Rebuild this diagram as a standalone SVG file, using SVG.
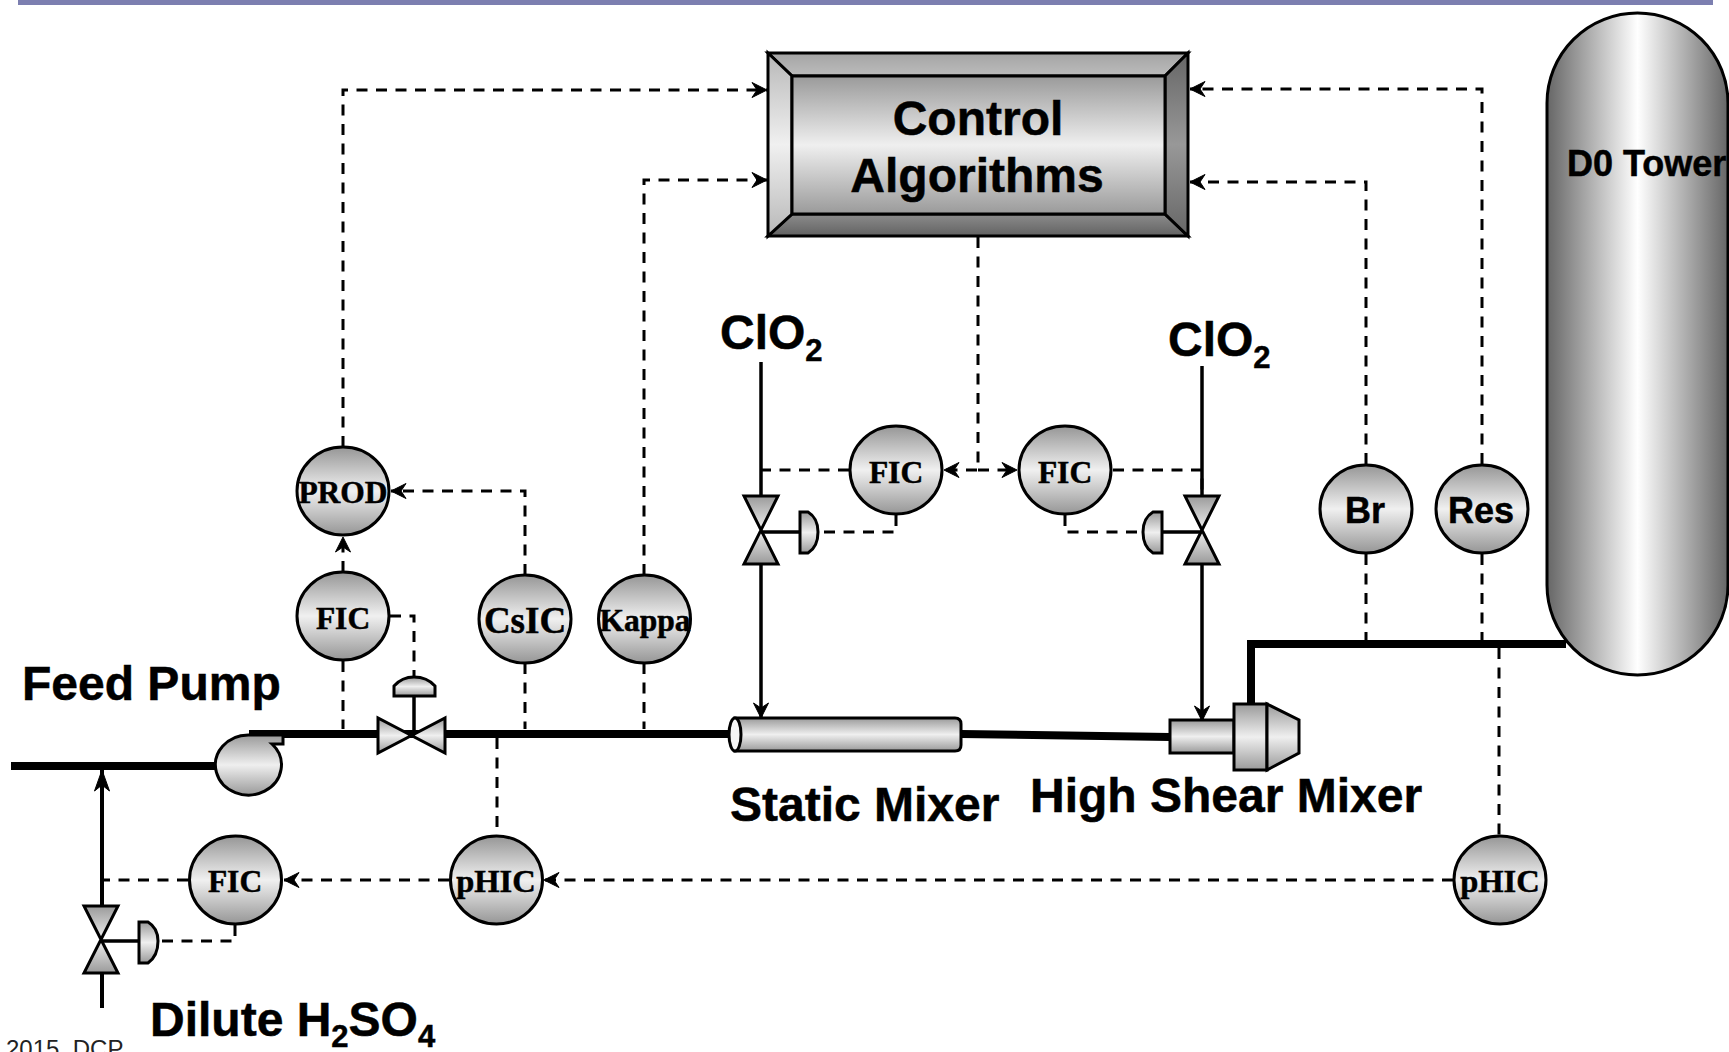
<svg xmlns="http://www.w3.org/2000/svg" width="1729" height="1052" viewBox="0 0 1729 1052">
<style>
text{font-family:"Liberation Sans",Arial,sans-serif;font-weight:bold;fill:#000;stroke:#000;stroke-width:.5}
.big{font-size:48px}
.mid{font-size:36px}
.sub{font-size:31px}
.ser{font-family:"Liberation Serif","Times New Roman",serif;font-size:31.500px;text-anchor:middle}
.c{text-anchor:middle}
.sh{stroke:#000;stroke-width:3;stroke-linejoin:miter}
.g{fill:url(#gv)}
.inst{fill:url(#gc);stroke:#000;stroke-width:3}
.dash{fill:none;stroke:#000;stroke-width:3;stroke-dasharray:11 8.500}
.arr{marker-end:url(#ah)}
.pipe{fill:none;stroke:#000;stroke-width:8}
.line{fill:none;stroke:#000;stroke-width:3.500}
</style>
<defs>
<linearGradient id="gv" x1="0" y1="0" x2="0" y2="1"><stop offset="0" stop-color="#9a9a9a"/><stop offset=".5" stop-color="#efefef"/><stop offset="1" stop-color="#9a9a9a"/></linearGradient>
<linearGradient id="gc" x1="0" y1="0" x2="0" y2="1"><stop offset="0" stop-color="#969696"/><stop offset=".5" stop-color="#f0f0f0"/><stop offset="1" stop-color="#969696"/></linearGradient>
<linearGradient id="gt" x1="0" y1="0" x2="1" y2="0"><stop offset="0" stop-color="#666"/><stop offset=".5" stop-color="#fff"/><stop offset="1" stop-color="#666"/></linearGradient>
<linearGradient id="gtop" x1="0" y1="0" x2="0" y2="1"><stop offset="0" stop-color="#a4a4a4"/><stop offset="1" stop-color="#bcbcbc"/></linearGradient>
<linearGradient id="gbot" x1="0" y1="0" x2="0" y2="1"><stop offset="0" stop-color="#8c8c8c"/><stop offset="1" stop-color="#626262"/></linearGradient>
<linearGradient id="gl" x1="0" y1="0" x2="0" y2="1"><stop offset="0" stop-color="#b8b8b8"/><stop offset=".5" stop-color="#f0f0f0"/><stop offset="1" stop-color="#b8b8b8"/></linearGradient>
<linearGradient id="gr" x1="0" y1="0" x2="0" y2="1"><stop offset="0" stop-color="#666"/><stop offset=".5" stop-color="#989898"/><stop offset="1" stop-color="#666"/></linearGradient>
<marker id="ah" markerUnits="userSpaceOnUse" markerWidth="18" markerHeight="18" refX="16" refY="9" orient="auto" overflow="visible"><path d="M16,9 L1,1.500 L6,9 L1,16.500 Z" fill="#000" stroke="#000" stroke-width="1"/></marker>
<marker id="ahl" markerUnits="userSpaceOnUse" markerWidth="24" markerHeight="24" refX="22" refY="12" orient="auto" overflow="visible"><path d="M22,12 L1,4.500 L7,12 L1,19.500 Z" fill="#000" stroke="#000" stroke-width="1"/></marker>
</defs>
<rect width="1729" height="1052" fill="#fff"/>
<rect x="18" y="0" width="1695" height="5" fill="#7c7fb0"/>

<g id="connectors">
<path class="pipe" d="M11,766H216"/>
<path class="pipe" d="M249,734H735"/>
<path class="pipe" d="M961,734L1170,737"/>
<path class="pipe" d="M1251,704V644H1566"/>
<path class="line" style="stroke-width:4;marker-end:url(#ahl)" d="M102,906V770"/>
<path class="line" style="stroke-width:4" d="M102,974V1008"/>
<path class="line" d="M761,362V496"/>
<path class="line arr" d="M761,564V718"/>
<path class="line" d="M1202,366V496"/>
<path class="line arr" d="M1202,564V721"/>
<path class="dash arr" d="M343,447V90H767"/>
<path class="dash arr" d="M644,575V180H767"/>
<path class="dash arr" d="M1482,464V89H1190"/>
<path class="dash arr" d="M1366,464V182H1190"/>
<path class="dash" d="M1366,554V640"/>
<path class="dash" d="M1482,554V640"/>
<path class="dash" d="M1499,648V835"/>
<path class="dash arr" d="M343,572V537"/>
<path class="dash arr" d="M525,575V491H391"/>
<path class="dash" d="M390,616H414V677"/>
<path class="dash" d="M343,661V729"/>
<path class="dash" d="M525,663V729"/>
<path class="dash" d="M644,663V729"/>
<path class="dash" d="M497,738V835"/>
<path class="dash arr" d="M978,237V470H944"/>
<path class="dash arr" d="M978,470H1017"/>
<path class="dash" d="M849,470H761"/>
<path class="dash" d="M1113,470H1202V496"/>
<path class="dash" d="M896,515V532H818"/>
<path class="dash" d="M1065,515V532H1143"/>
<path class="dash arr" d="M449,880H284"/>
<path class="dash arr" d="M1453,880H544"/>
<path class="dash" d="M188,880H102"/>
<path class="dash" d="M235,925V941H158"/>
</g>

<g id="control-algorithms">
<path d="M768,53H1188L1165,76H792Z" fill="url(#gtop)" class="sh"/>
<path d="M768,236H1188L1165,214H792Z" fill="url(#gbot)" class="sh"/>
<path d="M768,53L792,76V214L768,236Z" fill="url(#gl)" class="sh"/>
<path d="M1188,53L1165,76V214L1188,236Z" fill="url(#gr)" class="sh"/>
<rect x="792" y="76" width="373" height="138" fill="url(#gv)" class="sh"/>
<text class="big c" x="978" y="135">Control</text>
<text class="big c" x="977" y="192">Algorithms</text>
</g>

<g id="d0-tower">
<path d="M1547,103A90.500,90 0 0 1 1728,103V585A90.500,90 0 0 1 1547,585Z" fill="url(#gt)" class="sh"/>
<text class="mid" x="1567" y="176">D0 Tower</text>
</g>

<g id="fic-top-left"><ellipse cx="896" cy="470" rx="46" ry="44" class="inst"/><text class="ser" x="896" y="483">FIC</text></g>
<g id="fic-top-right"><ellipse cx="1065" cy="470" rx="46" ry="44" class="inst"/><text class="ser" x="1065" y="483">FIC</text></g>
<g id="prod"><ellipse cx="343" cy="491" rx="46" ry="44" class="inst"/><text class="ser" x="343" y="503">PROD</text></g>
<g id="fic-feed"><ellipse cx="343" cy="616" rx="46" ry="44" class="inst"/><text class="ser" x="343" y="629">FIC</text></g>
<g id="csic"><ellipse cx="525" cy="619" rx="46" ry="44" class="inst"/><text class="ser" style="font-size:37px" x="525" y="633">CsIC</text></g>
<g id="kappa"><ellipse cx="644.500" cy="619" rx="46" ry="44" class="inst"/><text class="ser" x="645" y="631">Kappa</text></g>
<g id="br"><ellipse cx="1366" cy="509" rx="46" ry="44" class="inst"/><text class="mid c" x="1365" y="523">Br</text></g>
<g id="res"><ellipse cx="1482" cy="509" rx="46" ry="44" class="inst"/><text class="mid c" x="1481" y="523">Res</text></g>
<g id="fic-acid"><ellipse cx="235.500" cy="880" rx="46" ry="44" class="inst"/><text class="ser" x="235" y="892">FIC</text></g>
<g id="phic-mid"><ellipse cx="496.500" cy="880" rx="46" ry="44" class="inst"/><text class="ser" style="font-size:32.500px" x="496" y="892">pHIC</text></g>
<g id="phic-right"><ellipse cx="1500" cy="880" rx="46" ry="44" class="inst"/><text class="ser" style="font-size:32.500px" x="1500" y="892">pHIC</text></g>

<g id="valve-left">
<path d="M744,496H778L744,564H778Z" class="g sh"/>
<path class="line" d="M761,532H800"/>
<path d="M800,512H808Q818,518 818,532Q818,547 808,553H800Z" class="g sh"/>
</g>
<g id="valve-right">
<path d="M1185,496H1219L1185,564H1219Z" class="g sh"/>
<path class="line" d="M1202,532H1162"/>
<path d="M1162,512H1153Q1143,518 1143,532Q1143,547 1153,553H1162Z" class="g sh"/>
</g>
<g id="valve-feed">
<path d="M378,718V753L445,718V753Z" class="g sh"/>
<path class="line" d="M414,696V735"/>
<path d="M394,696V686Q402,677 414,677Q427,677 435,686V696Z" class="g sh"/>
</g>
<g id="valve-acid">
<path d="M84,906H118L84,973H118Z" class="g sh"/>
<path class="line" d="M101,941H139"/>
<path d="M139,922H148Q158,928 158,941Q158,956 148,963H139Z" class="g sh"/>
</g>

<g id="feed-pump">
<path d="M249,735H283V744H272A33,30 0 1 1 249,735Z" class="g sh"/>
<text class="big" x="22" y="700">Feed Pump</text>
</g>
<g id="static-mixer">
<path d="M735,718H955Q961,718 961,724V745Q961,751 955,751H735Z" class="g sh"/>
<ellipse cx="735" cy="734.500" rx="6" ry="16.500" fill="#f5f5f5" class="sh"/>
<text class="big" x="730" y="821">Static Mixer</text>
</g>
<g id="high-shear-mixer">
<rect x="1170" y="720" width="64" height="33" class="g sh"/>
<rect x="1234" y="704" width="33" height="66" class="g sh"/>
<path d="M1267,704L1299,720V753L1267,770Z" class="g sh"/>
<text class="big" x="1030" y="812">High Shear Mixer</text>
</g>

<g id="labels">
<text class="big" x="720" y="349">ClO<tspan class="sub" dy="12">2</tspan></text>
<text class="big" x="1168" y="356">ClO<tspan class="sub" dy="12">2</tspan></text>
<text class="big" x="150" y="1036">Dilute H<tspan class="sub" dy="11">2</tspan><tspan dy="-11">SO</tspan><tspan class="sub" dy="11">4</tspan></text>
<text x="6" y="1057" xml:space="preserve" style="font-size:24px;font-weight:normal;fill:#222;stroke:none">2015  DCP</text>
</g>
</svg>
